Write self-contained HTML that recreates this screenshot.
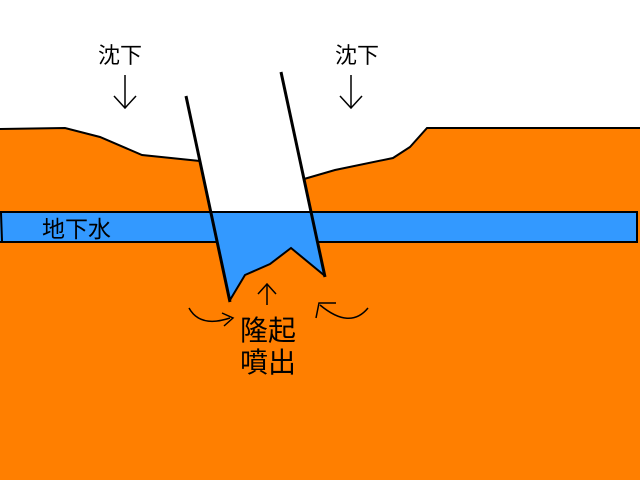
<!DOCTYPE html>
<html><head><meta charset="utf-8"><style>
html,body{margin:0;padding:0;background:#fff;width:640px;height:480px;overflow:hidden}
svg{display:block}
text{font-family:"Liberation Sans","Noto Sans CJK JP",sans-serif;fill:#000}
</style></head><body>
<svg width="640" height="480" viewBox="0 0 640 480" xmlns="http://www.w3.org/2000/svg">
<polygon fill="#ff7f00" points="0,129 65,128 100,137 142,155 200,161 211,212 311,212 304,179 335,170 393,158 410,147 427,128 640,128 640,480 0,480"/>
<rect x="0" y="212" width="638" height="30" fill="#3399ff"/>
<polygon fill="#3399ff" points="211,212 311,212 325,277 291,248 270,264 245,275 230,301 217,242"/>
<g stroke="#000" fill="none" stroke-width="2">
<polyline points="0,129 65,128 100,137 142,155 200,161"/>
<polyline points="304,179 335,170 393,158 410,147 427,128 640,128"/>
<line x1="0" y1="212" x2="638" y2="212"/>
<line x1="0" y1="242" x2="217" y2="242"/>
<line x1="317" y1="242" x2="638" y2="242"/>
<line x1="637" y1="212" x2="637" y2="242"/>
<line x1="1" y1="213" x2="2" y2="241"/>
<polyline points="230,300 245,275 270,264 291,248 325,276"/>
<line x1="186" y1="96" x2="230" y2="302" stroke-width="3"/>
<line x1="281" y1="72" x2="325" y2="277" stroke-width="3"/>
<g stroke-width="1.5">
<line x1="125" y1="75" x2="125" y2="108"/><polyline points="114,96 125,108 136,96"/>
<line x1="351" y1="75" x2="351" y2="108"/><polyline points="340,96 351,108 362,96"/>
<line x1="267" y1="285" x2="267" y2="305"/><polyline points="258,294 267,284 276,294"/>
<path d="M189,308 Q200,328 230,318"/><polyline points="222,313 233,318 224,326"/>
<path d="M368,308 Q350,330 320,305"/><polyline points="336,303 319,303 316,318"/>
</g>
</g>
<text x="98" y="63" font-size="22">沈下</text>
<text x="335" y="63" font-size="22">沈下</text>
<text x="42" y="237" font-size="23">地下水</text>
<text x="240" y="340" font-size="28">隆起</text>
<text x="240" y="372" font-size="28">噴出</text>
</svg>
</body></html>
